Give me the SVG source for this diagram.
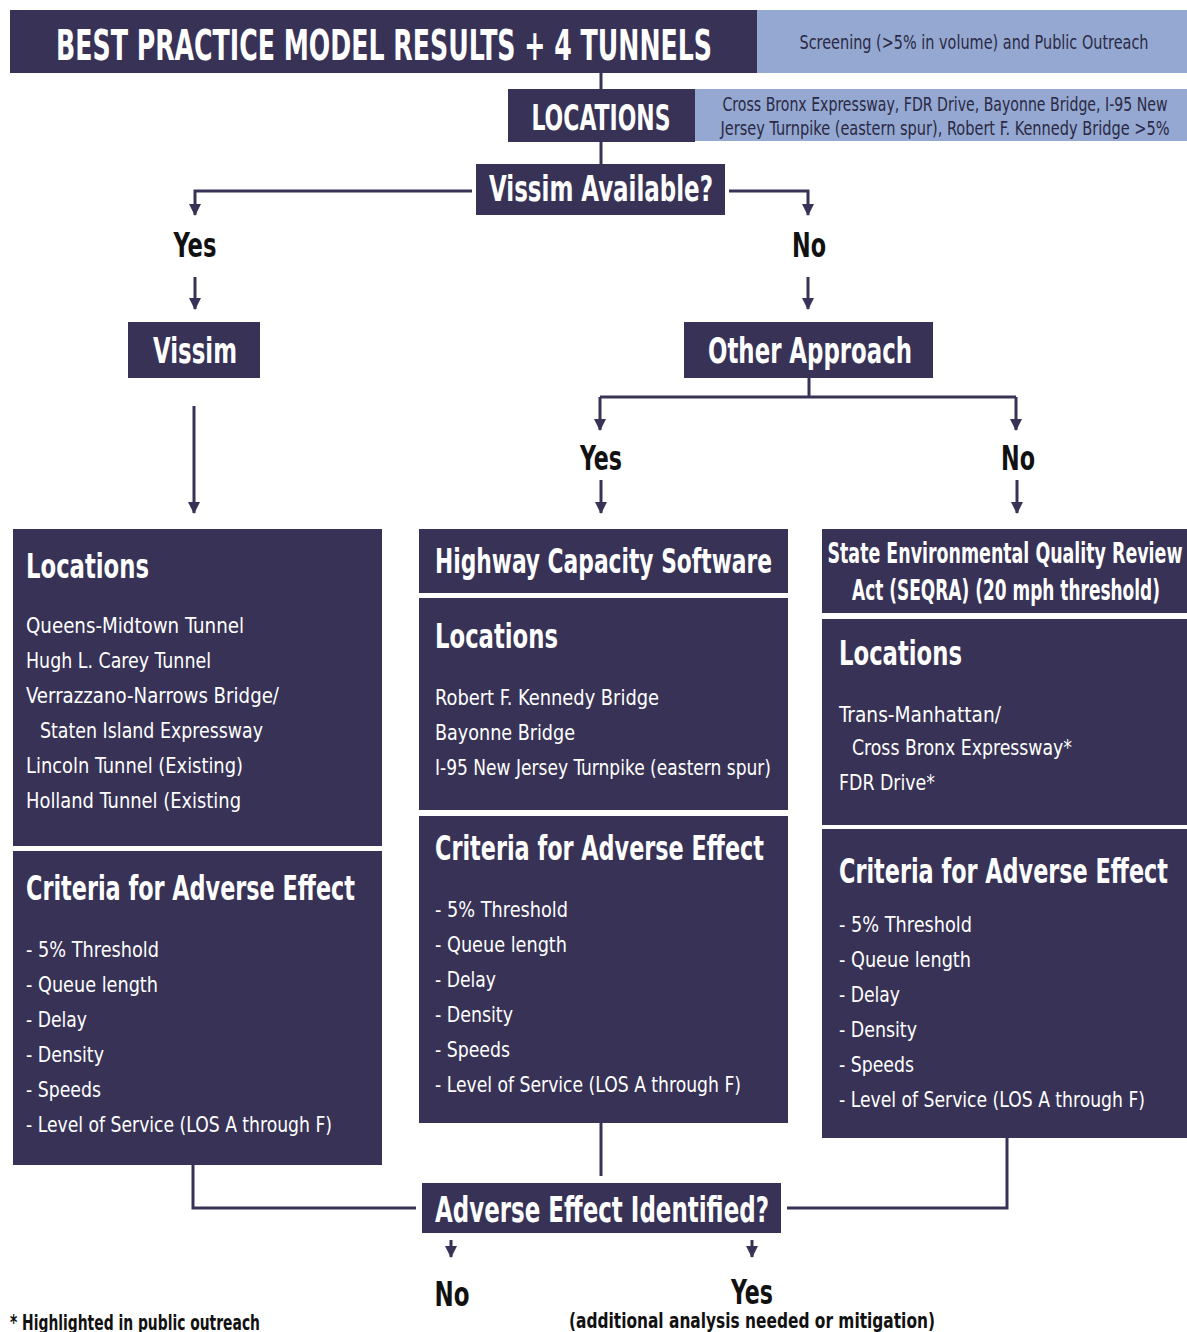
<svg xmlns="http://www.w3.org/2000/svg" width="1187" height="1332" viewBox="0 0 1187 1332">
<defs>
<style>
text{font-family:"Liberation Sans Narrow","DejaVu Sans Condensed","Liberation Sans",sans-serif;font-stretch:condensed;}
.box{fill:#383356;}
.lb{fill:#94a8d1;}
.w{fill:#ffffff;font-weight:bold;}
.hd{fill:#ffffff;font-weight:bold;}
.it{fill:#ffffff;font-size:22px;}
.dk{fill:#2b2944;}
.yn{fill:#111111;font-weight:bold;font-size:33px;text-anchor:middle;}
.ln{fill:none;stroke:#383356;stroke-width:3;}
</style>
<marker id="ad" markerUnits="userSpaceOnUse" markerWidth="13" markerHeight="12" refX="6" refY="11" orient="0" viewBox="0 0 12 12">
<path d="M0,0 L12,0 L6,12 Z" fill="#383356"/>
</marker>
</defs>
<rect width="1187" height="1332" fill="#ffffff"/>

<g id="connectors">
<path class="ln" d="M601,73 V89"/>
<path class="ln" d="M601,142 V164"/>
<path class="ln" d="M472,191 H195 V215" marker-end="url(#ad)"/>
<path class="ln" d="M729,191 H808 V215" marker-end="url(#ad)"/>
<path class="ln" d="M195,277 V309" marker-end="url(#ad)"/>
<path class="ln" d="M808,277 V309" marker-end="url(#ad)"/>
<path class="ln" d="M194,406 V513" marker-end="url(#ad)"/>
<path class="ln" d="M809,378 V397"/>
<path class="ln" d="M600,397 H1016"/>
<path class="ln" d="M600,397 V430" marker-end="url(#ad)"/>
<path class="ln" d="M1016,397 V430" marker-end="url(#ad)"/>
<path class="ln" d="M601,480 V513" marker-end="url(#ad)"/>
<path class="ln" d="M1017,480 V513" marker-end="url(#ad)"/>
<path class="ln" d="M193,1165 V1208 H416"/>
<path class="ln" d="M601,1123 V1176"/>
<path class="ln" d="M787,1208 H1007 V1138"/>
<path class="ln" d="M451,1240 V1257" marker-end="url(#ad)"/>
<path class="ln" d="M752,1240 V1257" marker-end="url(#ad)"/>
</g>

<g id="header">
<rect class="box" x="10" y="10" width="747" height="63"/>
<rect class="lb" x="757" y="10" width="430" height="63"/>
<text class="w" x="384" y="60" font-size="42" text-anchor="middle" textLength="656" lengthAdjust="spacingAndGlyphs">BEST PRACTICE MODEL RESULTS + 4 TUNNELS</text>
<text class="dk" x="974" y="49" font-size="20" text-anchor="middle" textLength="349" lengthAdjust="spacingAndGlyphs">Screening (&gt;5% in volume) and Public Outreach</text>
</g>

<g id="locations-top">
<rect class="box" x="508" y="89" width="187" height="53"/>
<rect class="lb" x="695" y="89" width="492" height="52"/>
<text class="w" x="601" y="130" font-size="36" text-anchor="middle" textLength="139" lengthAdjust="spacingAndGlyphs">LOCATIONS</text>
<text class="dk" x="945" y="111" font-size="20" text-anchor="middle" textLength="445" lengthAdjust="spacingAndGlyphs">Cross Bronx Expressway, FDR Drive, Bayonne Bridge, I-95 New</text>
<text class="dk" x="945" y="135" font-size="20" text-anchor="middle" textLength="449" lengthAdjust="spacingAndGlyphs">Jersey Turnpike (eastern spur), Robert F. Kennedy Bridge &gt;5%</text>
</g>

<g id="vissim-available">
<rect class="box" x="476" y="164" width="249" height="51"/>
<text class="hd" x="601" y="201" font-size="36" text-anchor="middle" textLength="224" lengthAdjust="spacingAndGlyphs">Vissim Available?</text>
</g>

<g id="yes1"><text class="yn" x="195" y="257" textLength="43" lengthAdjust="spacingAndGlyphs">Yes</text></g>
<g id="no1"><text class="yn" x="809" y="257" textLength="34" lengthAdjust="spacingAndGlyphs">No</text></g>

<g id="vissim">
<rect class="box" x="128" y="322" width="132" height="56"/>
<text class="hd" x="195" y="363" font-size="36" text-anchor="middle" textLength="84" lengthAdjust="spacingAndGlyphs">Vissim</text>
</g>

<g id="other-approach">
<rect class="box" x="684" y="322" width="249" height="56"/>
<text class="hd" x="810" y="363" font-size="36" text-anchor="middle" textLength="204" lengthAdjust="spacingAndGlyphs">Other Approach</text>
</g>

<g id="yes2"><text class="yn" x="601" y="470" textLength="42" lengthAdjust="spacingAndGlyphs">Yes</text></g>
<g id="no2"><text class="yn" x="1018" y="470" textLength="34" lengthAdjust="spacingAndGlyphs">No</text></g>

<g id="left-locations">
<rect class="box" x="13" y="529" width="369" height="317"/>
<text class="hd" x="26" y="578" font-size="34" textLength="123" lengthAdjust="spacingAndGlyphs">Locations</text>
<text class="it" x="26" y="633" textLength="218" lengthAdjust="spacingAndGlyphs">Queens-Midtown Tunnel</text>
<text class="it" x="26" y="668" textLength="185" lengthAdjust="spacingAndGlyphs">Hugh L. Carey Tunnel</text>
<text class="it" x="26" y="703" textLength="253" lengthAdjust="spacingAndGlyphs">Verrazzano-Narrows Bridge/</text>
<text class="it" x="40" y="738" textLength="223" lengthAdjust="spacingAndGlyphs">Staten Island Expressway</text>
<text class="it" x="26" y="773" textLength="217" lengthAdjust="spacingAndGlyphs">Lincoln Tunnel (Existing)</text>
<text class="it" x="26" y="808" textLength="215" lengthAdjust="spacingAndGlyphs">Holland Tunnel (Existing</text>
</g>

<g id="left-criteria">
<rect class="box" x="13" y="851" width="369" height="314"/>
<text class="hd" x="26" y="900" font-size="34" textLength="329" lengthAdjust="spacingAndGlyphs">Criteria for Adverse Effect</text>
<text class="it" x="26" y="957" textLength="133" lengthAdjust="spacingAndGlyphs">- 5% Threshold</text>
<text class="it" x="26" y="992" textLength="132" lengthAdjust="spacingAndGlyphs">- Queue length</text>
<text class="it" x="26" y="1027" textLength="61" lengthAdjust="spacingAndGlyphs">- Delay</text>
<text class="it" x="26" y="1062" textLength="78" lengthAdjust="spacingAndGlyphs">- Density</text>
<text class="it" x="26" y="1097" textLength="75" lengthAdjust="spacingAndGlyphs">- Speeds</text>
<text class="it" x="26" y="1132" textLength="306" lengthAdjust="spacingAndGlyphs">- Level of Service (LOS A through F)</text>
</g>

<g id="hcs">
<rect class="box" x="419" y="529" width="369" height="64"/>
<text class="hd" x="435" y="573" font-size="34" textLength="337" lengthAdjust="spacingAndGlyphs">Highway Capacity Software</text>
</g>

<g id="mid-locations">
<rect class="box" x="419" y="598" width="369" height="212"/>
<text class="hd" x="435" y="648" font-size="34" textLength="123" lengthAdjust="spacingAndGlyphs">Locations</text>
<text class="it" x="435" y="705" textLength="224" lengthAdjust="spacingAndGlyphs">Robert F. Kennedy Bridge</text>
<text class="it" x="435" y="740" textLength="140" lengthAdjust="spacingAndGlyphs">Bayonne Bridge</text>
<text class="it" x="435" y="775" textLength="336" lengthAdjust="spacingAndGlyphs">I-95 New Jersey Turnpike (eastern spur)</text>
</g>

<g id="mid-criteria">
<rect class="box" x="419" y="816" width="369" height="307"/>
<text class="hd" x="435" y="860" font-size="34" textLength="329" lengthAdjust="spacingAndGlyphs">Criteria for Adverse Effect</text>
<text class="it" x="435" y="917" textLength="133" lengthAdjust="spacingAndGlyphs">- 5% Threshold</text>
<text class="it" x="435" y="952" textLength="132" lengthAdjust="spacingAndGlyphs">- Queue length</text>
<text class="it" x="435" y="987" textLength="61" lengthAdjust="spacingAndGlyphs">- Delay</text>
<text class="it" x="435" y="1022" textLength="78" lengthAdjust="spacingAndGlyphs">- Density</text>
<text class="it" x="435" y="1057" textLength="75" lengthAdjust="spacingAndGlyphs">- Speeds</text>
<text class="it" x="435" y="1092" textLength="306" lengthAdjust="spacingAndGlyphs">- Level of Service (LOS A through F)</text>
</g>

<g id="seqra">
<rect class="box" x="822" y="529" width="365" height="84"/>
<text class="hd" x="1005" y="563" font-size="28" text-anchor="middle" textLength="355" lengthAdjust="spacingAndGlyphs">State Environmental Quality Review</text>
<text class="hd" x="1006" y="600" font-size="28" text-anchor="middle" textLength="308" lengthAdjust="spacingAndGlyphs">Act (SEQRA) (20 mph threshold)</text>
</g>

<g id="right-locations">
<rect class="box" x="822" y="619" width="365" height="206"/>
<text class="hd" x="839" y="665" font-size="34" textLength="123" lengthAdjust="spacingAndGlyphs">Locations</text>
<text class="it" x="839" y="722" textLength="162" lengthAdjust="spacingAndGlyphs">Trans-Manhattan/</text>
<text class="it" x="852" y="755" textLength="220" lengthAdjust="spacingAndGlyphs">Cross Bronx Expressway*</text>
<text class="it" x="839" y="790" textLength="96" lengthAdjust="spacingAndGlyphs">FDR Drive*</text>
</g>

<g id="right-criteria">
<rect class="box" x="822" y="829" width="365" height="309"/>
<text class="hd" x="839" y="883" font-size="34" textLength="329" lengthAdjust="spacingAndGlyphs">Criteria for Adverse Effect</text>
<text class="it" x="839" y="932" textLength="133" lengthAdjust="spacingAndGlyphs">- 5% Threshold</text>
<text class="it" x="839" y="967" textLength="132" lengthAdjust="spacingAndGlyphs">- Queue length</text>
<text class="it" x="839" y="1002" textLength="61" lengthAdjust="spacingAndGlyphs">- Delay</text>
<text class="it" x="839" y="1037" textLength="78" lengthAdjust="spacingAndGlyphs">- Density</text>
<text class="it" x="839" y="1072" textLength="75" lengthAdjust="spacingAndGlyphs">- Speeds</text>
<text class="it" x="839" y="1107" textLength="306" lengthAdjust="spacingAndGlyphs">- Level of Service (LOS A through F)</text>
</g>

<g id="adverse-identified">
<rect class="box" x="422" y="1183" width="359" height="50"/>
<text class="hd" x="602" y="1222" font-size="36" text-anchor="middle" textLength="334" lengthAdjust="spacingAndGlyphs">Adverse Effect Identified?</text>
</g>

<g id="no3"><text class="yn" x="452" y="1306" textLength="35" lengthAdjust="spacingAndGlyphs">No</text></g>
<g id="yes3">
<text class="yn" x="752" y="1304" textLength="42" lengthAdjust="spacingAndGlyphs">Yes</text>
<text x="752" y="1328" font-size="22" font-weight="bold" fill="#111111" text-anchor="middle" textLength="366" lengthAdjust="spacingAndGlyphs">(additional analysis needed or mitigation)</text>
</g>

<g id="footnote">
<text x="10" y="1330" font-size="21" font-weight="bold" fill="#111111" textLength="250" lengthAdjust="spacingAndGlyphs">* Highlighted in public outreach</text>
</g>
</svg>
